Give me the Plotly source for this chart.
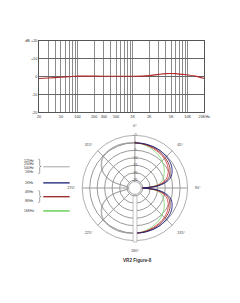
import plotly.graph_objects as go

W, H = 240, 303

# ---------------- data: frequency response ----------------
freq_hz = [20, 30, 50, 70, 100, 200, 500, 1000, 1500, 2000, 3000, 4000, 5000, 6000, 8000, 10000, 14000, 20000]
resp_db = [-1.1, -0.8, -0.4, -0.1, 0.2, 0.2, 0.1, 0.1, 0.2, 0.5, 1.2, 1.6, 1.7, 1.6, 1.2, 0.9, 0.2, -1.1]

grid_freqs = [20, 30, 40, 50, 60, 70, 80, 90, 100, 200, 300, 400, 500, 600, 700, 800, 900,
              1000, 2000, 3000, 4000, 5000, 6000, 7000, 8000, 9000, 10000, 20000]
freq_labels = {20: "20", 50: "50", 100: "100", 200: "200", 300: "300", 500: "500",
               1000: "1K", 2000: "2K", 5000: "5K", 10000: "10K", 20000: "20KHz"}
db_ticks = [20, 10, 0, -10, -20]
db_tick_text = ["dB +20", "+10", "0", "-10", "-20"]

# ---------------- data: polar pattern ----------------
off_axis_right = [0, 10, 20, 30, 40, 50, 60, 70, 75, 80, 85, 90]
pat_2k = [0, 0, 0, 0, -0.3, -0.8, -1.8, -4.0, -6.0, -9.5, -15.0, -25.0]
pat_4k = [0, -0.2, -0.4, -0.8, -1.3, -2.0, -3.2, -5.5, -7.5, -11.0, -16.0, -25.0]
pat_8k = [0, -0.3, -0.8, -1.4, -2.0, -3.0, -4.5, -7.0, -9.0, -12.0, -17.0, -25.0]
pat_16k = [0, -0.5, -1.5, -2.5, -3.8, -5.5, -7.5, -10.0, -11.5, -13.5, -18.0, -25.0]

off_axis_left = [0, 10, 20, 30, 40, 50, 60, 65, 70, 75, 80]
pat_low_a = [0, 0.3, 0.6, 0.6, 0.3, -1.2, -4.5, -7.0, -10.5, -15.5, -25.0]
pat_low_b = [0, 0.2, 0.4, 0.3, 0.0, -1.6, -5.0, -7.5, -11.0, -16.5, -25.0]

radial_ticks = [5, 0, -5, -10, -15, -20, -25]
radial_text = ["+5", "0", "-5", "-10", "-15", "-20", "-25"]
angle_ticks = [0, 45, 90, 135, 180, 225, 270, 315]
angle_text = ["0°", "45°", "90°", "135°", "180°", "225°", "270°", "315°"]

legend_groups = [
    (["125Hz", "250Hz", "500Hz", "1KHz"], "#8a8a8a", 0.8),
    (["2KHz"], "#1c1f7a", 1.3),
    (["4KHz", "8KHz"], "#9b2424", 1.3),
    (["16KHz"], "#86d878", 1.8),
]
title_text = "VR2 Figure-8"

FONT = "Liberation Sans, Arial, sans-serif"


def px(x):
    return x / W


def py(y):
    return 1 - y / H


fig = go.Figure()

# ---- frequency response ----
fig.add_trace(go.Scatter(x=freq_hz, y=resp_db, mode="lines", line=dict(color="#b22a2a", width=1.1, shape="spline"),
                         showlegend=False, hoverinfo="skip"))

fig.update_layout(
    xaxis=dict(type="log", range=[1.30103, 4.30103], domain=[px(38.3), px(209.3)],
               tickvals=grid_freqs, ticktext=[freq_labels.get(f, "") for f in grid_freqs],
               tickangle=0,
               showgrid=True, gridcolor="#8c8c8c", gridwidth=0.7,
               showline=True, linecolor="#555", linewidth=0.8, mirror=True,
               ticks="", tickfont=dict(size=3.8, color="#333", family=FONT), zeroline=False),
    yaxis=dict(range=[-20, 20], domain=[py(111.7), py(39.3)],
               tickvals=db_ticks, ticktext=db_tick_text,
               showgrid=True, gridcolor="#666", gridwidth=0.8,
               showline=True, linecolor="#555", linewidth=0.8, mirror=True,
               ticks="", tickfont=dict(size=3.8, color="#333", family=FONT), zeroline=False),
)

# ---- polar pattern ----
right_up = [a for a in off_axis_right]
right_dn = [180 - a for a in off_axis_right]
left_up = [360 - a for a in off_axis_left]
left_dn = [180 + a for a in off_axis_left]

for vals, col, w in [(pat_low_a, "#8a8a8a", 0.7), (pat_low_b, "#9a9a9a", 0.6)]:
    for th in (left_up, left_dn):
        fig.add_trace(go.Scatterpolar(theta=th, r=vals, mode="lines", line=dict(color=col, width=w, shape="spline"),
                                      showlegend=False, hoverinfo="skip"))

for vals, col, w in [(pat_16k, "#86d878", 0.9), (pat_8k, "#d23030", 0.8), (pat_4k, "#7a1c1c", 0.8), (pat_2k, "#1c1f7a", 0.9)]:
    for th in (right_up, right_dn):
        fig.add_trace(go.Scatterpolar(theta=th, r=vals, mode="lines", line=dict(color=col, width=w, shape="spline"),
                                      showlegend=False, hoverinfo="skip"))

fig.add_trace(go.Scatterpolar(theta=[0] * len(radial_ticks), r=radial_ticks, mode="text", text=radial_text,
                              textfont=dict(size=3.6, color="#444", family=FONT), showlegend=False, hoverinfo="skip"))

fig.update_layout(
    polar=dict(
        domain=dict(x=[px(83), px(192)], y=[py(243), py(134)]),
        hole=0.12,
        bgcolor="white",
        radialaxis=dict(range=[-26, 5], tickvals=radial_ticks, showticklabels=False, ticks="",
                        showline=False, gridcolor="#9a9a9a", gridwidth=0.7),
        angularaxis=dict(rotation=90, direction="clockwise", tickvals=angle_ticks, ticktext=angle_text,
                         ticks="outside", ticklen=6, tickcolor="rgba(0,0,0,0)",
                         showline=True, linecolor="#9a9a9a", linewidth=0.8,
                         gridcolor="#9a9a9a", gridwidth=0.7,
                         tickfont=dict(size=3.8, color="#444", family=FONT)),
    )
)

shapes = [dict(type="rect", xref="paper", yref="paper", x0=px(135.6), x1=px(139.6), y0=py(243.2), y1=py(196.5),
               fillcolor="white", line=dict(color="#9a9a9a", width=0.6), layer="above")]
annotations = []


def bracket_path(x0, y0, y1):
    mid = (y0 + y1) / 2
    pts = [(x0, y0), (x0 + 1.5, y0 + 1.0), (x0 + 1.5, mid - 1.0), (x0 + 3.0, mid),
           (x0 + 1.5, mid + 1.0), (x0 + 1.5, y1 - 1.0), (x0, y1)]
    d = "M {:.5f},{:.5f}".format(px(pts[0][0]), py(pts[0][1]))
    d += " Q {:.5f},{:.5f} {:.5f},{:.5f}".format(px(pts[1][0]), py(pts[0][1]), px(pts[1][0]), py(pts[1][1]))
    d += " L {:.5f},{:.5f}".format(px(pts[2][0]), py(pts[2][1]))
    d += " Q {:.5f},{:.5f} {:.5f},{:.5f}".format(px(pts[2][0]), py(mid), px(pts[3][0]), py(pts[3][1]))
    d += " Q {:.5f},{:.5f} {:.5f},{:.5f}".format(px(pts[4][0]), py(mid), px(pts[4][0]), py(pts[4][1]))
    d += " L {:.5f},{:.5f}".format(px(pts[5][0]), py(pts[5][1]))
    d += " Q {:.5f},{:.5f} {:.5f},{:.5f}".format(px(pts[5][0]), py(pts[6][1]), px(pts[6][0]), py(pts[6][1]))
    return d


# ---- legend ----
group_text_y = [[160.7, 164.5, 168.5, 172.5], [183.3], [192.7, 201.7], [211.7]]
group_line_y = [167.0, 183.3, 197.3, 211.7]
for (labels, col, w), ys, ly in zip(legend_groups, group_text_y, group_line_y):
    for lab, yy in zip(labels, ys):
        annotations.append(dict(x=px(35), y=py(yy), xref="paper", yref="paper", text=lab, showarrow=False,
                                xanchor="right", yanchor="middle", font=dict(size=3.4, color="#333", family=FONT)))
    shapes.append(dict(type="line", xref="paper", yref="paper", x0=px(42.7), x1=px(70), y0=py(ly), y1=py(ly),
                       line=dict(color=col, width=w)))
    if len(labels) > 1:
        shapes.append(dict(type="path", xref="paper", yref="paper",
                           path=bracket_path(37.5, ys[0] - 1.5, ys[-1] + 1.5),
                           line=dict(color="#666", width=0.6)))

annotations.append(dict(x=px(140), y=py(261.7), xref="paper", yref="paper", text="<b>" + title_text + "</b>",
                        showarrow=False, xanchor="center", yanchor="middle",
                        font=dict(size=4.6, color="#333", family=FONT)))

fig.update_layout(width=W, height=H, margin=dict(l=0, r=0, t=0, b=0), paper_bgcolor="white",
                  plot_bgcolor="white", shapes=shapes, annotations=annotations, showlegend=False)

fig.write_html("out.html")
